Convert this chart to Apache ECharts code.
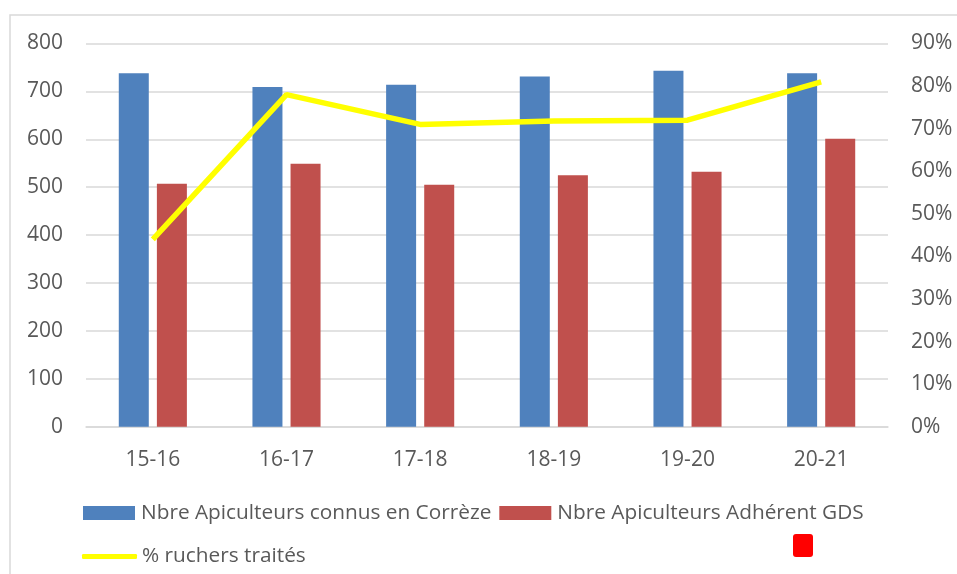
<!DOCTYPE html>
<html>
<head>
<meta charset="utf-8">
<script src="https://cdn.jsdelivr.net/npm/echarts@6/dist/echarts.min.js"></script>
<style>
html,body{margin:0;padding:0;background:#fff;}
#chart{width:957px;height:574px;}
</style>
</head>
<body>
<div id="chart"></div>
<script>
const categories = ['15-16', '16-17', '17-18', '18-19', '19-20', '20-21'];
const apiculteursConnus = [738, 709, 714, 731, 743, 738];
const apiculteursAdherents = [507, 549, 505, 525, 532, 601];
const ruchersTraites = [0.44, 0.78, 0.71, 0.718, 0.72, 0.81];
const leftTicks = { min: 0, max: 800, interval: 100 };
const rightTicks = { min: 0, max: 0.9, interval: 0.1 };

const seriesNames = ['Nbre Apiculteurs connus en Corrèze', 'Nbre Apiculteurs Adhérent GDS', '% ruchers traités'];
const font = 'Open Sans';
const textColor = '#595959';

const chart = echarts.init(document.getElementById('chart'), null, { renderer: 'canvas' });
chart.setOption({
  animation: false,
  backgroundColor: '#ffffff',
  textStyle: { fontFamily: font, color: textColor },
  grid: { left: 86, right: 69, top: 43.5, bottom: 147.3, containLabel: false },
  graphic: [
    { type: 'rect', shape: { x: 10, y: 15, width: 1000, height: 700 }, style: { fill: 'none', stroke: '#d9d9d9', lineWidth: 1.5 }, silent: true, z: -10 },
    { type: 'rect', shape: { x: 793, y: 534, width: 20, height: 23, r: 3 }, style: { fill: '#ff0000' }, silent: true }
  ],
  legend: [
    {
      data: [seriesNames[0], seriesNames[1]],
      left: 83, top: 502.5, padding: 0,
      itemWidth: 52, itemHeight: 14, itemGap: 8,
      icon: 'rect',
      textStyle: { fontFamily: font, fontSize: 20.8, color: textColor, padding: [0, 0, 0, 1] }
    },
    {
      data: [seriesNames[2]],
      left: 82, top: 546, padding: 0,
      itemWidth: 55, itemHeight: 5,
      icon: 'roundRect',
      textStyle: { fontFamily: font, fontSize: 20.8, color: textColor }
    }
  ],
  xAxis: {
    type: 'category',
    data: categories,
    axisLine: { show: true, lineStyle: { color: '#d9d9d9', width: 1.5 } },
    axisTick: { show: false },
    axisLabel: { fontFamily: font, fontSize: 21, color: textColor, margin: 23 }
  },
  yAxis: [
    {
      type: 'value',
      min: leftTicks.min, max: leftTicks.max, interval: leftTicks.interval,
      axisLine: { show: false }, axisTick: { show: false },
      splitLine: { show: true, lineStyle: { color: '#d9d9d9', width: 1.5 } },
      axisLabel: { fontFamily: font, fontSize: 21, color: textColor, margin: 23 }
    },
    {
      type: 'value',
      min: rightTicks.min, max: rightTicks.max, interval: rightTicks.interval,
      axisLine: { show: false }, axisTick: { show: false },
      splitLine: { show: false },
      axisLabel: {
        fontFamily: font, fontSize: 21, color: textColor, margin: 23,
        formatter: v => Math.round(v * 100) + '%'
      }
    }
  ],
  series: [
    {
      name: seriesNames[0], type: 'bar', data: apiculteursConnus,
      barWidth: 30, barGap: '27%',
      itemStyle: { color: '#4f81bd' }
    },
    {
      name: seriesNames[1], type: 'bar', data: apiculteursAdherents,
      barWidth: 30, barGap: '27%',
      itemStyle: { color: '#c0504d' }
    },
    {
      name: seriesNames[2], type: 'line', yAxisIndex: 1, data: ruchersTraites,
      showSymbol: false, symbol: 'none', z: 5,
      lineStyle: { color: '#ffff00', width: 5.5 },
      itemStyle: { color: '#ffff00' }
    }
  ]
});
</script>
</body>
</html>
